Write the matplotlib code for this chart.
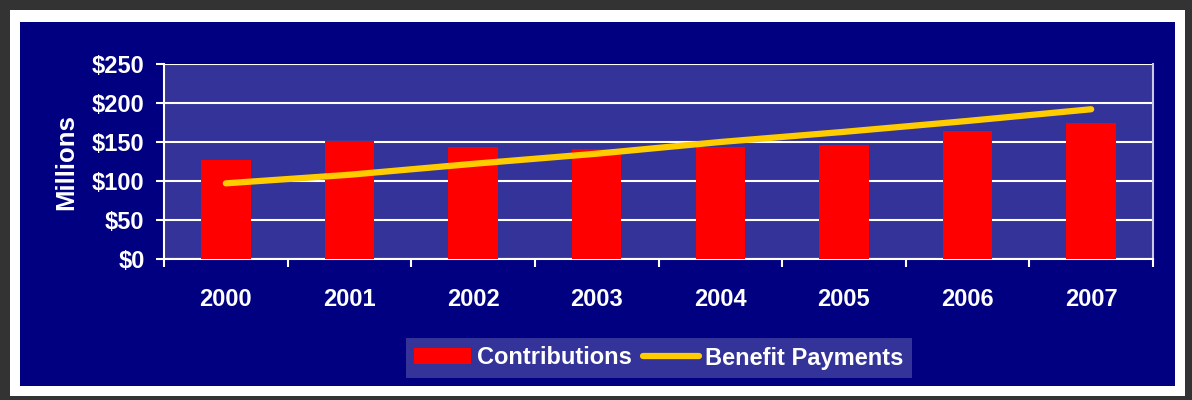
import numpy as np
import matplotlib.pyplot as plt
from matplotlib.patches import Rectangle
from matplotlib.ticker import FuncFormatter

# datos
anios = ["2000", "2001", "2002", "2003", "2004", "2005", "2006", "2007"]
contribuciones = [127, 151, 144, 141, 143, 146, 164, 174]
pagos_beneficios = [97, 108, 122, 135, 150, 163, 177, 192]

W, H = 1192, 400
fig = plt.figure(figsize=(W / 100, H / 100), dpi=100)
fig.patch.set_facecolor("#333333")

# marcos
fig.patches.append(Rectangle((10 / W, 4 / H), 1175 / W, 386 / H, transform=fig.transFigure,
                             facecolor="white", edgecolor="none", zorder=-2))
fig.patches.append(Rectangle((20 / W, 14 / H), 1155 / W, 364 / H, transform=fig.transFigure,
                             facecolor="#000080", edgecolor="none", zorder=-1))

ax = fig.add_axes([164 / W, 1 - 259 / H, (1153 - 164) / W, (259 - 64) / H])
ax.set_facecolor("#333399")

x = np.arange(len(anios))
barras = ax.bar(x, contribuciones, width=0.4, color="#FF0000", label="Contributions", zorder=3)
linea, = ax.plot(x, pagos_beneficios, color="#FFCC00", linewidth=4.5, solid_capstyle="round",
                 label="Benefit Payments", zorder=4)

ax.set_xlim(-0.5, len(anios) - 0.5)
ax.set_ylim(0, 250)
ax.set_yticks(np.arange(0, 251, 50))
ax.yaxis.set_major_formatter(FuncFormatter(lambda v, p: "${:d}".format(int(v))))
ax.set_xticks(x)
ax.set_xticklabels(anios)
ax.set_xticks(np.arange(-0.5, len(anios), 1), minor=True)

ax.grid(axis="y", color="white", linewidth=1.5, zorder=1)
ax.spines["top"].set_visible(False)
ax.spines["left"].set_color("white")
ax.spines["left"].set_linewidth(1.5)
ax.spines["bottom"].set_color("white")
ax.spines["bottom"].set_linewidth(1.5)
ax.spines["right"].set_color("#C8C8E0")
ax.spines["right"].set_linewidth(1.5)

ax.tick_params(axis="x", which="major", length=0, pad=21, colors="white")
ax.tick_params(axis="x", which="minor", length=6, width=1.5, color="white")
ax.tick_params(axis="y", length=6, width=1.5, color="white", colors="white", pad=8)
for t in ax.get_xticklabels() + ax.get_yticklabels():
    t.set_family("Liberation Sans")
    t.set_fontweight("bold")
    t.set_fontsize(17)

fig.text(66 / W, 1 - 162 / H, "Millions", rotation=90, ha="center", va="center",
         color="white", fontsize=18.5, fontweight="bold", family="Liberation Sans")

leg = fig.legend([barras, linea], ["Contributions", "Benefit Payments"],
                 loc="center", bbox_to_anchor=(659 / W, 1 - 358 / H), ncol=2,
                 frameon=True, fancybox=False, handlelength=2.4, handleheight=0.65,
                 handletextpad=0.25, columnspacing=0.45, borderpad=0.35, borderaxespad=0,
                 prop=dict(family="Liberation Sans", weight="bold", size=17))
leg.get_frame().set_facecolor("#333399")
leg.get_frame().set_edgecolor("none")
leg.get_frame().set_alpha(1)
for t in leg.get_texts():
    t.set_color("white")

fig.savefig("out.png", dpi=100, facecolor=fig.get_facecolor())
